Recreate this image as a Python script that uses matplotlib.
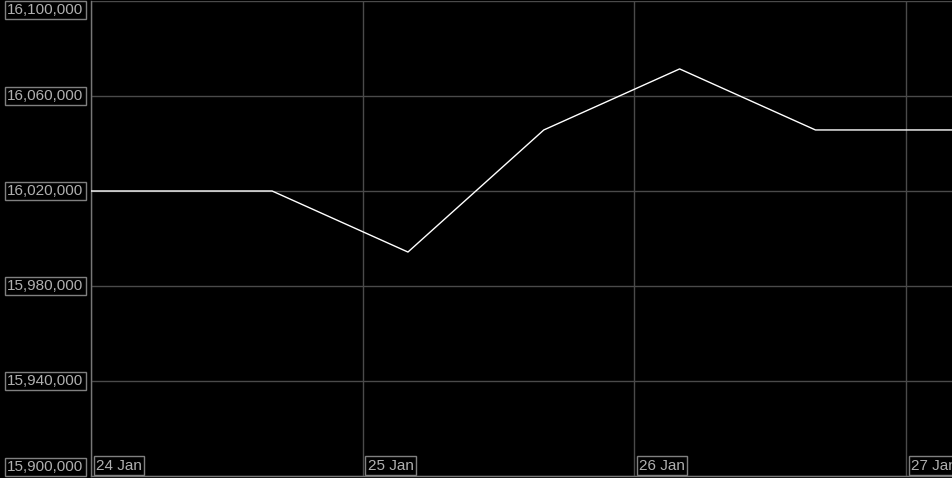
import matplotlib
matplotlib.use("Agg")
import matplotlib.pyplot as plt
import matplotlib.dates as mdates
from datetime import datetime

times = ["2024-01-23 16:00", "2024-01-24 04:00", "2024-01-24 16:00", "2024-01-25 04:00",
         "2024-01-25 16:00", "2024-01-26 04:00", "2024-01-26 16:00", "2024-01-27 04:00",
         "2024-01-27 16:00"]
values = [16020000, 16020000, 16020000, 15994300, 16045700, 16071400, 16045700, 16045700, 16045700]
y_ticks = [15900000, 15940000, 15980000, 16020000, 16060000, 16100000]
x_ticks = ["2024-01-24", "2024-01-25", "2024-01-26", "2024-01-27"]
x_labels = ["24 Jan", "25 Jan", "26 Jan", "27 Jan"]

t = [datetime.strptime(s, "%Y-%m-%d %H:%M") for s in times]
xt = [datetime.strptime(s, "%Y-%m-%d") for s in x_ticks]

plt.rcParams['font.family'] = ['Liberation Sans', 'DejaVu Sans']
fig = plt.figure(figsize=(9.53, 4.78), dpi=100, facecolor='black')
W, H = 953, 478
ax = fig.add_axes([91 / W, 2 / H, (W - 91) / W, 475 / H], facecolor='black')

ax.plot(t, values, color='white', lw=1.0, zorder=3)
ax.set_ylim(15900000, 16100000)
ax.set_xlim(datetime(2024, 1, 24, 0, 0), datetime(2024, 1, 27, 4, 9))

grid_c = '#4a4a4a'
for v in y_ticks:
    ax.axhline(v, color=grid_c, lw=1, zorder=1)
for x in xt:
    ax.axvline(x, color=grid_c, lw=1, zorder=1)

for s in ['top', 'right']:
    ax.spines[s].set_visible(False)
for s in ['left', 'bottom']:
    ax.spines[s].set_color('#777777')
    ax.spines[s].set_linewidth(1)
ax.set_xticks([])
ax.set_yticks([])

txt_c = '#b0b0b0'
box = dict(boxstyle='square,pad=0.15', fc='black', ec='#808080', lw=1)
for i, v in enumerate(y_ticks):
    if i == len(y_ticks) - 1:
        va, dy = 'top', -1.5
    elif i == 0:
        va, dy = 'bottom', 1.5
    else:
        va, dy = 'center', 0
    ax.annotate(f"{v:,}", xy=(0, v), xycoords=('axes fraction', 'data'),
                xytext=(-5.5, dy), textcoords='offset points', ha='right', va=va,
                fontsize=11, color=txt_c, bbox=box, annotation_clip=False)

for x, lab in zip(xt, x_labels):
    ax.annotate(lab, xy=(x, 0), xycoords=('data', 'axes fraction'),
                xytext=(3.5, 2.5), textcoords='offset points', ha='left', va='bottom',
                fontsize=11, color=txt_c, bbox=box, annotation_clip=False, clip_on=False)

fig.savefig('out.png', dpi=100, facecolor='black')
